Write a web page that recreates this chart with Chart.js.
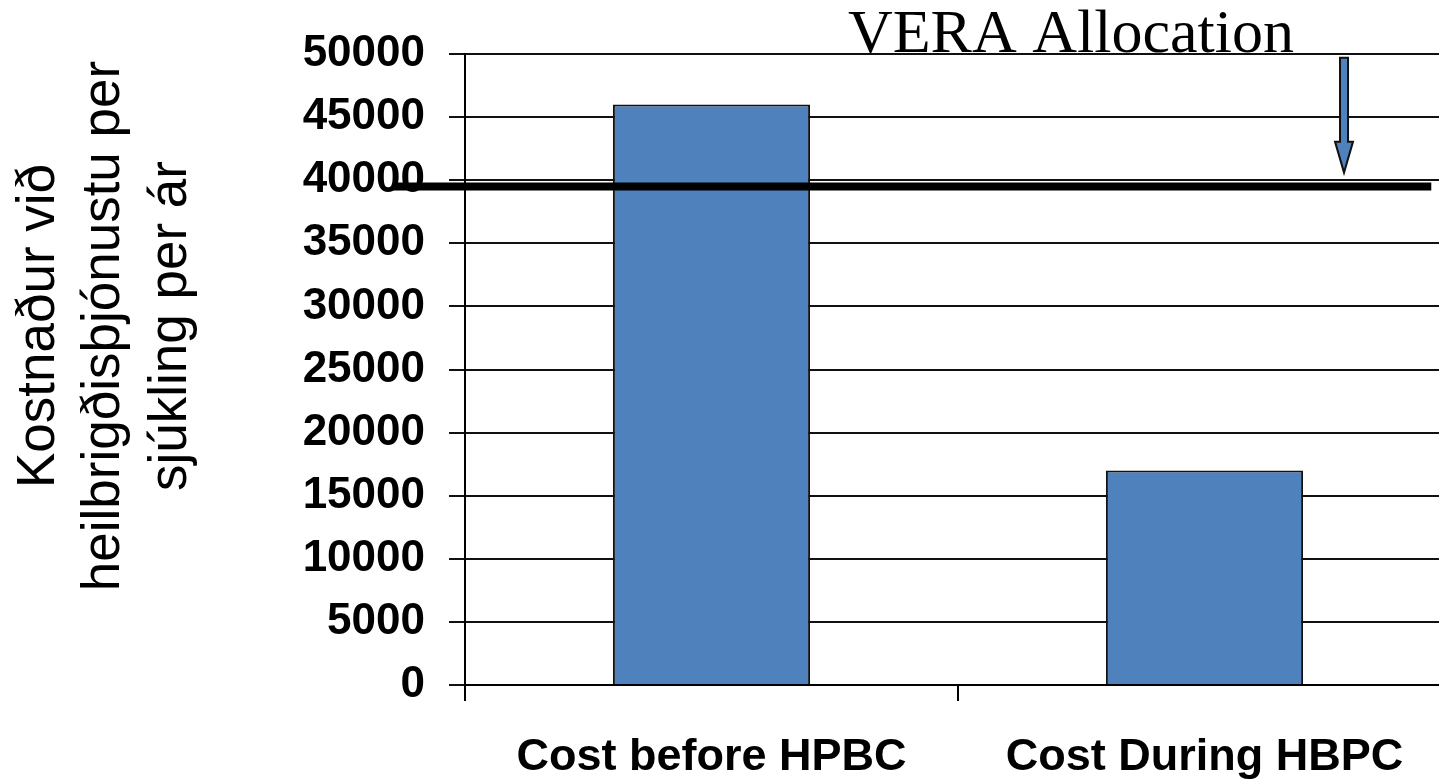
<!DOCTYPE html>
<html>
<head>
<meta charset="utf-8">
<script src="https://cdn.jsdelivr.net/npm/chart.js@4"></script>
<style>
html,body{margin:0;padding:0;background:#fff;overflow:hidden;width:1439px;height:784px}
canvas{display:block}
</style>
</head>
<body>
<canvas id="c" width="1460" height="784"></canvas>
<script>
// ---- data ----
const categories = ['Cost before HPBC', 'Cost During HBPC'];
const costValues = [46000, 17000];
const yTickMin = [0];
const yTickMax = [50000];
const yTickStep = [5000];
const yTitleLines = ['Kostnaður við', 'heilbrigðisþjónustu per', 'sjúkling per ár'];
const veraLabel = ['VERA Allocation'];
const veraValue = [39500];          // VERA allocation level
const arrowValues = [49700, 40600]; // arrow top, arrow tip

const annotationPlugin = {
  id: 'vera',
  afterDraw(chart) {
    const ctx = chart.ctx;
    const xs = chart.scales.x, ys = chart.scales.y;
    const area = chart.chartArea;
    ctx.save();
    // horizontal allocation line
    const yLine = ys.getPixelForValue(veraValue[0]);
    ctx.fillStyle = '#000';
    const x0 = xs.getPixelForValue(-0.646), x1 = xs.getPixelForValue(1.46);
    ctx.fillRect(x0, yLine - 4, x1 - x0, 8);

    // arrow
    const ax = xs.getPixelForValue(1.283);
    const aTop = ys.getPixelForValue(arrowValues[0]);
    const aTip = ys.getPixelForValue(arrowValues[1]);
    const headLen = 31, shaftHalf = 4, headHalf = 9;
    ctx.beginPath();
    ctx.moveTo(ax - shaftHalf, aTop);
    ctx.lineTo(ax + shaftHalf, aTop);
    ctx.lineTo(ax + shaftHalf, aTip - headLen);
    ctx.lineTo(ax + headHalf, aTip - headLen);
    ctx.lineTo(ax, aTip);
    ctx.lineTo(ax - headHalf, aTip - headLen);
    ctx.lineTo(ax - shaftHalf, aTip - headLen);
    ctx.closePath();
    ctx.fillStyle = '#4F81BD';
    ctx.fill();
    ctx.lineWidth = 2;
    ctx.strokeStyle = '#111';
    ctx.stroke();

    // VERA Allocation label
    ctx.font = '62px "Liberation Serif", "Times New Roman", serif';
    ctx.fillStyle = '#000';
    ctx.textAlign = 'center';
    ctx.textBaseline = 'alphabetic';
    ctx.fillText(veraLabel[0], xs.getPixelForValue(0.729), area.top - 2);

    // y axis title (three lines, rotated)
    ctx.font = '53px "Liberation Sans", Arial, sans-serif';
    ctx.textAlign = 'center';
    ctx.textBaseline = 'alphabetic';
    const cy = 326;
    const baselines = [54, 119, 186];
    yTitleLines.forEach((t, i) => {
      ctx.save();
      ctx.translate(baselines[i], cy);
      ctx.rotate(-Math.PI / 2);
      ctx.fillText(t, 0, 0);
      ctx.restore();
    });
    ctx.restore();
  }
};

new Chart(document.getElementById('c'), {
  type: 'bar',
  data: {
    labels: categories,
    datasets: [{
      data: costValues,
      backgroundColor: '#4F81BD',
      borderColor: '#111',
      borderWidth: 2,
      barPercentage: 0.4,
      categoryPercentage: 1.0
    }]
  },
  options: {
    responsive: false,
    animation: false,
    layout: { padding: { top: 54, right: 9, bottom: 0, left: 0 } },
    plugins: { legend: { display: false }, tooltip: { enabled: false } },
    scales: {
      x: {
        grid: { display: true, drawOnChartArea: false, drawTicks: true, tickLength: 16, color: '#000', lineWidth: 2 },
        border: { display: true, color: '#000', width: 2 },
        ticks: { color: '#000', padding: 30, font: { family: '"Liberation Sans", Arial, sans-serif', size: 45, weight: 'bold' } },
        afterFit(s) { s.height = 99; }
      },
      y: {
        min: yTickMin[0],
        max: yTickMax[0],
        ticks: {
          stepSize: yTickStep[0], color: '#000', padding: 24,
          font: { family: '"Liberation Sans", Arial, sans-serif', size: 44, weight: 'bold' },
          callback: (v) => String(v)
        },
        grid: { color: '#111', lineWidth: 2, tickLength: 16 },
        border: { display: true, color: '#000', width: 2 },
        afterFit(s) { s.width = 465; }
      }
    }
  },
  plugins: [annotationPlugin]
});
</script>
</body>
</html>
